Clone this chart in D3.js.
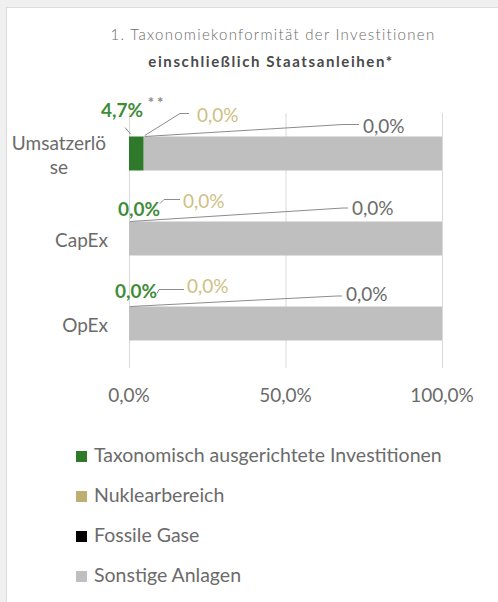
<!DOCTYPE html>
<html>
<head>
<meta charset="utf-8">
<script src="https://cdn.jsdelivr.net/npm/d3@7"></script>
<style>
  html, body { margin: 0; padding: 0; background: #f0f0f0; }
  svg { display: block; }
  text { font-family: Lato, "Open Sans", sans-serif; font-weight: 400; }
</style>
</head>
<body>
<svg id="chart" width="498" height="602"></svg>
<script>
// Categories (y axis), with their wrapped label lines
const categories = ["Umsatzerlöse", "CapEx", "OpEx"];
const categoryLines = [["Umsatzerlö", "se"], ["CapEx"], ["OpEx"]];

// Series values in percent
const seriesNames = ["Taxonomisch ausgerichtete Investitionen", "Nuklearbereich", "Fossile Gase", "Sonstige Anlagen"];
const taxonomyAligned = [4.7, 0.0, 0.0];
const nuclear = [0.0, 0.0, 0.0];
const fossilGas = [0.0, 0.0, 0.0];
const otherAssets = [95.3, 100.0, 100.0];

// Axis ticks
const xTicks = [0, 50, 100];

const colors = ["#2e7a2a", "#bfae72", "#000000", "#bfbfbf"];
const textGray = "#6b6b6b";

const svg = d3.select("#chart");

// white panel
svg.append("rect").attr("x", 6.5).attr("y", 7.5).attr("width", 500).attr("height", 600)
  .attr("fill", "#ffffff").attr("stroke", "#dcdcdc").attr("stroke-width", 1);

// title
svg.append("text").attr("x", 273).attr("y", 40).attr("text-anchor", "middle")
  .attr("font-size", 15).attr("fill", textGray).attr("letter-spacing", 1.3)
  .style("font-weight", 300)
  .text("1. Taxonomiekonformität der Investitionen");
svg.append("text").attr("x", 271).attr("y", 67).attr("text-anchor", "middle")
  .attr("font-size", 15).style("font-weight", "bold").attr("fill", "#4a4a4a").attr("letter-spacing", 1.6)
  .text("einschließlich Staatsanleihen*");

const x = d3.scaleLinear().domain([0, 100]).range([129, 442]);
const y = d3.scaleBand().domain(categories).range([111, 366]).paddingInner(0.6).paddingOuter(0.3);

// gridlines
svg.append("g").selectAll("line").data(xTicks).join("line")
  .attr("x1", d => x(d) + 0.5).attr("x2", d => x(d) + 0.5)
  .attr("y1", 113).attr("y2", 368)
  .attr("stroke", "#d9d9d9").attr("stroke-width", 1);

// stacked bars
const rows = categories.map((c, i) => ({
  cat: c,
  values: [taxonomyAligned[i], nuclear[i], fossilGas[i], otherAssets[i]]
}));
const stack = d3.stack().keys([0, 1, 2, 3]).value((d, k) => d.values[k]);
const stacked = stack(rows);

svg.append("g").selectAll("g").data(stacked).join("g")
  .attr("fill", (d, i) => colors[i])
  .selectAll("rect").data(d => d).join("rect")
  .attr("x", d => x(d[0]))
  .attr("width", d => x(d[1]) - x(d[0]))
  .attr("y", d => y(d.data.cat))
  .attr("height", y.bandwidth());

const fmt = v => d3.format(".1f")(v).replace(".", ",") + "%";

// x axis tick labels
svg.append("g").selectAll("text").data(xTicks).join("text")
  .attr("x", d => x(d)).attr("y", 402).attr("text-anchor", "middle")
  .attr("font-size", 19).attr("fill", textGray)
  .text(d => fmt(d));

// category labels
categories.forEach((c, i) => {
  const lines = categoryLines[i];
  const cy = y(c) + y.bandwidth() / 2;
  const t = svg.append("text")
    .attr("font-size", 19).attr("fill", textGray)
    .attr("text-anchor", lines.length > 1 ? "middle" : "end");
  lines.forEach((ln, j) => {
    t.append("tspan")
      .attr("x", lines.length > 1 ? 59 : 108)
      .attr("y", cy + 8.5 + (j - (lines.length - 1) / 2) * 23.5)
      .text(ln);
  });
});

// label placement per category (offsets from bar top / plot start)
const labelLayout = [
  { green: [122, -20], nuc: [197, -15], nucKnee: [180, -23], fos: [363, -4], fosKnee: [343, -12] },
  { green: [139, -5.5], nuc: [183, -13.5], nucKnee: [168, -22], fos: [352, -6.5], fosKnee: [343, -13.5] },
  { green: [136, -8.5], nuc: [187, -13.5], nucKnee: [163, -17], fos: [346, -5.5], fosKnee: [337, -10.5] }
];
const lineColor = "#8c8c8c";

categories.forEach((c, i) => {
  const top = y(c);
  const L = labelLayout[i];
  const first = i === 0;
  const start = x(taxonomyAligned[i] + nuclear[i]) + 1;

  // aligned share
  svg.append("text")
    .attr("x", L.green[0]).attr("y", top + L.green[1])
    .attr("text-anchor", "middle").attr("font-size", 19).style("font-weight", "bold")
    .attr("fill", "#3f8d3a").text(fmt(taxonomyAligned[i]));
  if (first) {
    svg.append("path").attr("d", `M${x(0) + 2},${top - 2} L${x(0) - 4},${top - 9}`)
      .attr("stroke", lineColor).attr("fill", "none");
    svg.append("text").attr("x", 157).attr("y", top - 29).attr("text-anchor", "middle")
      .attr("font-size", 15).style("font-weight", "bold").attr("fill", "#8a8a8a").attr("letter-spacing", 3).text("**");
  }

  // nuclear share
  const nk = L.nucKnee;
  const nuclearPath = first
    ? `M${start},${top - 1} L${nk[0]},${top + nk[1]} L${L.nuc[0] - 8},${top + nk[1]}`
    : `M${L.green[0] + 21},${top + nk[1] + 4} L${nk[0] - 4},${top + nk[1]} L${L.nuc[0] - 3},${top + nk[1]}`;
  svg.append("path").attr("d", nuclearPath)
    .attr("stroke", lineColor).attr("fill", "none");
  svg.append("text").attr("x", L.nuc[0]).attr("y", top + L.nuc[1]).attr("font-size", 19)
    .attr("fill", "#cfbf85").text(fmt(nuclear[i]));

  // fossil gas share
  const fk = L.fosKnee;
  svg.append("path")
    .attr("d", `M${start},${top} L${fk[0]},${top + fk[1]} L${L.fos[0] - 4},${top + fk[1]}`)
    .attr("stroke", lineColor).attr("fill", "none");
  svg.append("text").attr("x", L.fos[0]).attr("y", top + L.fos[1]).attr("font-size", 19)
    .attr("fill", textGray).text(fmt(fossilGas[i]));
});

// legend
const legend = svg.append("g").selectAll("g").data(seriesNames).join("g")
  .attr("transform", (d, i) => `translate(76, ${462 + i * 40})`);
legend.append("rect").attr("x", 0).attr("y", -11).attr("width", 11).attr("height", 11)
  .attr("fill", (d, i) => colors[i]);
legend.append("text").attr("x", 18).attr("y", 0).attr("font-size", 19.5)
  .attr("fill", textGray).text(d => d);
</script>
</body>
</html>
